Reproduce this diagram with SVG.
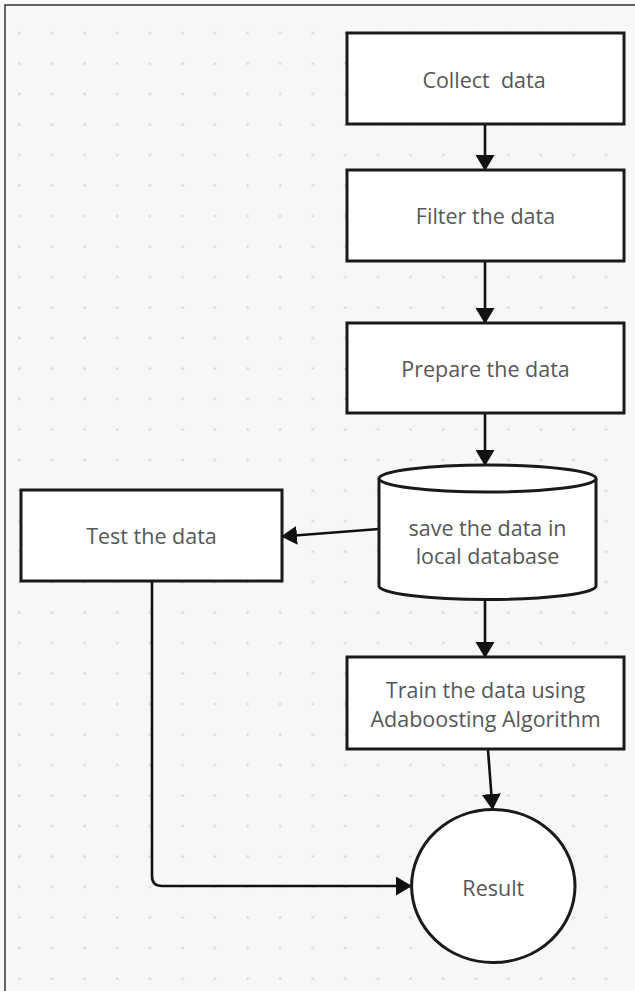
<svg xmlns="http://www.w3.org/2000/svg" width="635" height="991" viewBox="0 0 635 991">
<defs>
<pattern id="dots" x="3.1" y="17.75" width="32.6" height="30.5" patternUnits="userSpaceOnUse">
<circle cx="16.3" cy="15.25" r="1.5" fill="#dcdcdf"/>
</pattern>
<marker id="ah" markerUnits="userSpaceOnUse" markerWidth="16" markerHeight="19" viewBox="0 0 16 19" refX="15" refY="9.5" orient="auto">
<path d="M0,0 L16,9.5 L0,19 Z" fill="#111"/>
</marker>
</defs>
<style>
.box{fill:#ffffff;stroke:#1a1a1a;stroke-width:3}
.lbl{font-family:"Open Sans","Noto Sans",sans-serif;font-size:21.5px;fill:#575757;text-anchor:middle;white-space:pre}
.con{fill:none;stroke:#111;stroke-width:2.6;marker-end:url(#ah)}
</style>
<rect x="0" y="0" width="635" height="991" fill="#f7f7f9"/>
<rect x="5" y="5" width="630" height="986" fill="url(#dots)"/>
<path d="M5,991 V5 H635" fill="none" stroke="#333" stroke-width="1.5"/>

<g id="connectors">
<line class="con" x1="485" y1="124" x2="485" y2="170"/>
<line class="con" x1="485" y1="261" x2="485" y2="323"/>
<line class="con" x1="485" y1="413" x2="485" y2="465"/>
<line class="con" x1="379" y1="529" x2="282" y2="536.5"/>
<line class="con" x1="485" y1="600" x2="485" y2="657"/>
<line class="con" x1="488" y1="750" x2="492.5" y2="809"/>
<path class="con" d="M152,581 V876 Q152,886 162,886 H411"/>
</g>

<g id="collect">
<rect class="box" x="347" y="33" width="277" height="91"/>
<text class="lbl" x="484" y="88" xml:space="preserve">Collect  data</text>
</g>
<g id="filter">
<rect class="box" x="347" y="170" width="277" height="91"/>
<text class="lbl" x="485.5" y="224">Filter the data</text>
</g>
<g id="prepare">
<rect class="box" x="347" y="323" width="277" height="90"/>
<text class="lbl" x="485.5" y="377">Prepare the data</text>
</g>
<g id="database">
<path class="box" d="M379,478.5 V586 A108.5,13.5 0 0 0 596,586 V478.5"/>
<ellipse class="box" cx="487.5" cy="478.5" rx="108.5" ry="13.5"/>
<text class="lbl" x="487.5" y="536">save the data in</text>
<text class="lbl" x="487.5" y="564">local database</text>
</g>
<g id="test">
<rect class="box" x="21" y="490" width="261" height="91"/>
<text class="lbl" x="151.5" y="544">Test the data</text>
</g>
<g id="train">
<rect class="box" x="347" y="657" width="277" height="92"/>
<text class="lbl" x="485.5" y="698">Train the data using</text>
<text class="lbl" x="485.5" y="726.5">Adaboosting Algorithm</text>
</g>
<g id="result">
<ellipse class="box" cx="493.3" cy="886" rx="81.7" ry="76.5"/>
<text class="lbl" x="493.3" y="895.5">Result</text>
</g>
</svg>
